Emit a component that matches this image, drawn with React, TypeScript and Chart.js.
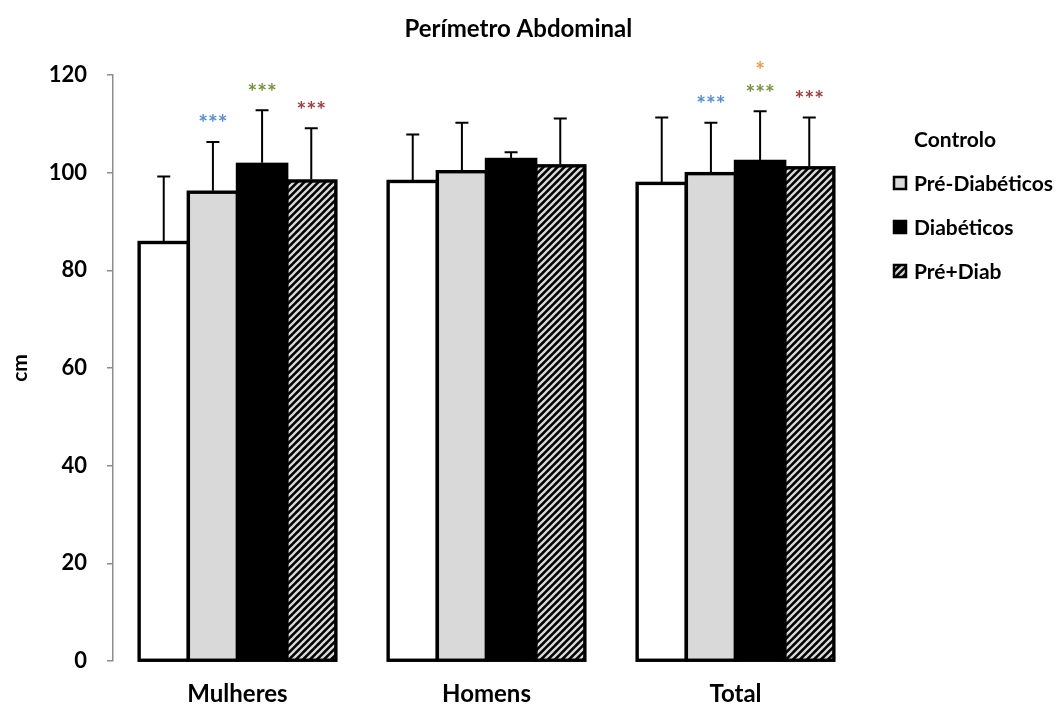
import React, { useEffect, useRef } from 'react';
import { Chart, registerables } from 'chart.js';

Chart.register(...registerables);

const titleText = 'Perímetro Abdominal';
const yAxisTitle = 'cm';
const categories = ['Mulheres', 'Homens', 'Total'];
const seriesNames = ['Controlo', 'Pré-Diabéticos', 'Diabéticos', 'Pré+Diab'];

const controlo = [85.7, 98.2, 97.8];
const preDiabeticos = [96.0, 100.2, 99.8];
const diabeticos = [101.7, 102.7, 102.3];
const preDiab = [98.3, 101.4, 101.0];

const controloSD = [13.5, 9.6, 13.5];
const preDiabeticosSD = [10.3, 10.0, 10.4];
const diabeticosSD = [11.1, 1.5, 10.3];
const preDiabSD = [10.8, 9.7, 10.3];

const controloSig: string[] = ['', '', ''];
const preDiabeticosSig = ['***', '', '***'];
const diabeticosSig = ['***', '', '***'];
const diabeticosSig2 = ['', '', '*'];
const preDiabSig = ['***', '', '***'];

const yMin = 0;
const yMax = 120;
const yStep = 20;

const FONT = 'Lato, "Open Sans", sans-serif';

function makeHatch(): CanvasPattern | string {
  const c = document.createElement('canvas');
  const s = 7;
  c.width = s;
  c.height = s;
  const g = c.getContext('2d');
  if (!g) return '#555';
  g.fillStyle = '#000';
  g.fillRect(0, 0, s, s);
  g.strokeStyle = '#d8d8d8';
  g.lineWidth = 2.3;
  g.beginPath();
  g.moveTo(-1, s + 1);
  g.lineTo(s + 1, -1);
  g.moveTo(-3, 3);
  g.lineTo(3, -3);
  g.moveTo(s - 3, s + 3);
  g.lineTo(s + 3, s - 3);
  g.stroke();
  const p = g.createPattern(c, 'repeat');
  return p || '#555';
}

export default function App() {
  const ref = useRef<HTMLCanvasElement | null>(null);

  useEffect(() => {
    if (!ref.current) return;
    const hatch = makeHatch();
    const fills: any[] = ['#ffffff', '#d9d9d9', '#000000', hatch];
    const values = [controlo, preDiabeticos, diabeticos, preDiab];
    const sds = [controloSD, preDiabeticosSD, diabeticosSD, preDiabSD];
    const sigs = [
      [{ t: controloSig, c: '#000' }],
      [{ t: preDiabeticosSig, c: '#558ED5' }],
      [{ t: diabeticosSig, c: '#77933C' }, { t: diabeticosSig2, c: '#F79646' }],
      [{ t: preDiabSig, c: '#A0403D' }],
    ];

    const decorPlugin = {
      id: 'decor',
      afterDatasetsDraw(chart: any) {
        const ctx = chart.ctx as CanvasRenderingContext2D;
        const yScale = chart.scales.y;
        ctx.save();
        chart.data.datasets.forEach((_: any, di: number) => {
          const meta = chart.getDatasetMeta(di);
          meta.data.forEach((bar: any) => {
            const p = bar.getProps(['x', 'y', 'base', 'width'], true);
            ctx.strokeStyle = '#000';
            ctx.lineWidth = 3.4;
            ctx.lineJoin = 'miter';
            ctx.strokeRect(p.x - p.width / 2, p.y, p.width, p.base - p.y);
          });
        });
        chart.data.datasets.forEach((_: any, di: number) => {
          const meta = chart.getDatasetMeta(di);
          meta.data.forEach((bar: any, i: number) => {
            const p = bar.getProps(['x', 'y'], true);
            const v = values[di][i];
            const capY = yScale.getPixelForValue(v + sds[di][i]);
            ctx.strokeStyle = '#000';
            ctx.lineWidth = 2;
            ctx.beginPath();
            ctx.moveTo(p.x, p.y - 1.5);
            ctx.lineTo(p.x, capY);
            ctx.moveTo(p.x - 6.5, capY);
            ctx.lineTo(p.x + 6.5, capY);
            ctx.stroke();
            ctx.font = `bold 23px ${FONT}`;
            ctx.textAlign = 'center';
            ctx.textBaseline = 'middle';
            sigs[di].forEach((s, k) => {
              const txt = s.t[i];
              if (!txt) return;
              ctx.fillStyle = s.c;
              ctx.fillText(txt, p.x, capY - 18 - k * 23);
            });
          });
        });
        ctx.restore();
      },
      afterDraw(chart: any) {
        const ctx = chart.ctx as CanvasRenderingContext2D;
        const area = chart.chartArea;
        ctx.save();
        ctx.fillStyle = '#000';
        ctx.font = `bold 24px ${FONT}`;
        ctx.textAlign = 'center';
        ctx.textBaseline = 'middle';
        ctx.fillText(titleText, chart.width * 0.489, 29);
        const boxX = area.right + 33;
        const textX = boxX + 21;
        ctx.font = `bold 21px ${FONT}`;
        ctx.textAlign = 'left';
        seriesNames.forEach((name, i) => {
          const cy = 139 + i * 44;
          if (i > 0) {
            ctx.fillStyle = fills[i];
            ctx.fillRect(boxX, cy - 7, 14, 14);
            ctx.strokeStyle = '#000';
            ctx.lineWidth = 2.5;
            ctx.strokeRect(boxX + 1, cy - 6, 12, 12);
          }
          ctx.fillStyle = '#000';
          ctx.fillText(name, textX, cy + 1);
        });
        ctx.restore();
      },
    };

    const chart = new Chart(ref.current, {
      type: 'bar',
      data: {
        labels: categories,
        datasets: seriesNames.map((name, i) => ({
          label: name,
          data: values[i],
          backgroundColor: fills[i],
          borderWidth: 0,
          categoryPercentage: 0.79,
          barPercentage: 1,
        })),
      },
      options: {
        animation: false,
        responsive: true,
        maintainAspectRatio: false,
        layout: { padding: { top: 75, right: 200, bottom: 0, left: 0 } },
        plugins: {
          legend: { display: false },
          title: { display: false },
          tooltip: { enabled: false },
        },
        scales: {
          x: {
            grid: { display: false, drawTicks: false },
            border: { display: false },
            ticks: { color: '#000', font: { family: FONT, size: 24, weight: 'bold' }, padding: 19 },
            afterFit: (s: any) => { s.height = 45; },
          },
          y: {
            min: yMin,
            max: yMax,
            ticks: { stepSize: yStep, color: '#000', font: { family: FONT, size: 22, weight: 'bold' }, padding: 20 },
            grid: { display: true, drawOnChartArea: false, drawTicks: true, tickLength: 6, color: '#8c8c8c', lineWidth: 1.5 },
            border: { display: true, color: '#8c8c8c', width: 1.5 },
            title: { display: true, text: yAxisTitle, color: '#000', font: { family: FONT, size: 21, weight: 'bold' }, padding: { top: 8, bottom: 0 } },
            afterFit: (s: any) => { s.width = 113; },
          },
        },
      },
      plugins: [decorPlugin],
    } as any);
    return () => chart.destroy();
  }, []);

  return (
    <div style={{ position: 'fixed', left: 0, top: 0, width: 1060, height: 706, background: '#fff' }}>
      <canvas ref={ref} />
    </div>
  );
}
